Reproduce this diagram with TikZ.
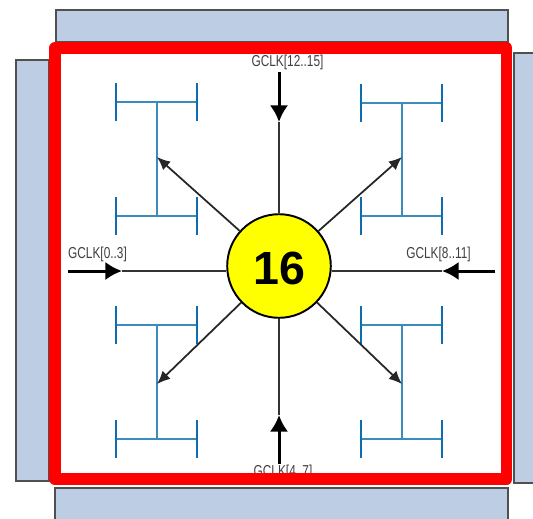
\documentclass[tikz,border=0pt]{standalone}
\usepackage{fontspec}
\setmainfont{Liberation Sans}
\newfontfamily\gclkfont[FakeStretch=0.75]{Liberation Sans}
\usetikzlibrary{arrows.meta}
\definecolor{bankfill}{HTML}{BDCDE4}
\definecolor{bankline}{HTML}{505050}
\definecolor{treeblue}{HTML}{0F6CB0}
\definecolor{treethin}{HTML}{3B8BBF}
\definecolor{hubyellow}{HTML}{FFFF00}
\definecolor{framered}{HTML}{FF0000}
\tikzset{
  bank/.style={draw=bankline, fill=bankfill, line width=0.8pt},
  gclk/.style={inner sep=0pt, text=black!75, font=\gclkfont\fontsize{9}{10}\selectfont},
  feed/.style={line width=1.7pt, -{Latex[length=9.5pt,width=10.5pt]}},
  spoke/.style={line width=0.6pt, black!80},
  branch/.style={line width=1pt, black!85, -{Latex[length=7.5pt,width=6.5pt]}},
  bar/.style={line width=1.6pt, treeblue},
  rung/.style={line width=0.85pt, treethin}
}
\begin{document}
\begin{tikzpicture}[x=0.02cm, y=-0.02cm]
    % 1. Vùng hiển thị
    \useasboundingbox (0,0) rectangle (533,518);
    \clip (0,0) rectangle (533,518);

    % 2. Bốn dải xung quanh
    \draw[bank] (56,10) rectangle (508,42);
    \draw[bank] (16,60) rectangle (49,481);
    \draw[bank] (514,53) rectangle (545,483);
    \draw[bank] (55,488) rectangle (508,530);

    % 3. Cây xung nhịp (màu xanh)
    \foreach \sx/\ya/\yb in {157/102/216, 402/103/216, 157/325/439, 402/325/439} {
        \draw[rung] (\sx,\ya) -- (\sx,\yb);
        \foreach \yy in {\ya,\yb} {
            \draw[rung] (\sx-41,\yy) -- (\sx+40,\yy);
            \draw[bar] (\sx-41,\yy-19) -- (\sx-41,\yy+19);
            \draw[bar] (\sx+40,\yy-19) -- (\sx+40,\yy+19);
        }
    }

    % 4. Nút trung tâm
    \node[circle, draw=black, fill=hubyellow, line width=1.1pt, minimum size=104*0.567pt, inner sep=0pt] (hub) at (279,266) {};
    \node[inner sep=0pt, font=\bfseries\fontsize{26.5}{27}\selectfont] (hubtext) at (279,268) {16};

    % 5. Các nhãn
    \node[gclk] (lbltop) at (287.5,62) {GCLK[12..15]};
    \node[gclk] (lblleft) at (97.5,254) {GCLK[0..3]};
    \node[gclk] (lblright) at (438.5,254) {GCLK[8..11]};
    \node[gclk] (lblbottom) at (283,472) {GCLK[4..7]};

    % 6. Các mũi tên vào
    \coordinate (topa) at (279,72);
    \coordinate (topb) at (279,122);
    \coordinate (lefta) at (68,271);
    \coordinate (leftb) at (122,271);
    \coordinate (righta) at (495,271);
    \coordinate (rightb) at (442,271);
    \coordinate (bota) at (279,464);
    \coordinate (botb) at (279,415);
    \draw[spoke] (topb) -- (hub);
    \draw[spoke] (botb) -- (hub);
    \draw[spoke] (leftb) -- (leftb -| hub.west);
    \draw[spoke] (rightb) -- (rightb -| hub.east);
    \draw[feed] (topa) -- (topb);
    \draw[feed] (lefta) -- (leftb);
    \draw[feed] (righta) -- (rightb);
    \draw[feed] (bota) -- (botb);

    % 7. Các mũi tên chéo
    \coordinate (tipa) at (157,157);
    \coordinate (tipb) at (402,157);
    \coordinate (tipc) at (157,384);
    \coordinate (tipd) at (402,384);
    \foreach \tip in {tipa,tipb,tipc,tipd}
        \draw[branch] (hub) -- (\tip);

    % 8. Khung đỏ
    \draw[framered, line width=6.8pt, line join=round] (55,48) rectangle (506.5,479);
\end{tikzpicture}
\end{document}
